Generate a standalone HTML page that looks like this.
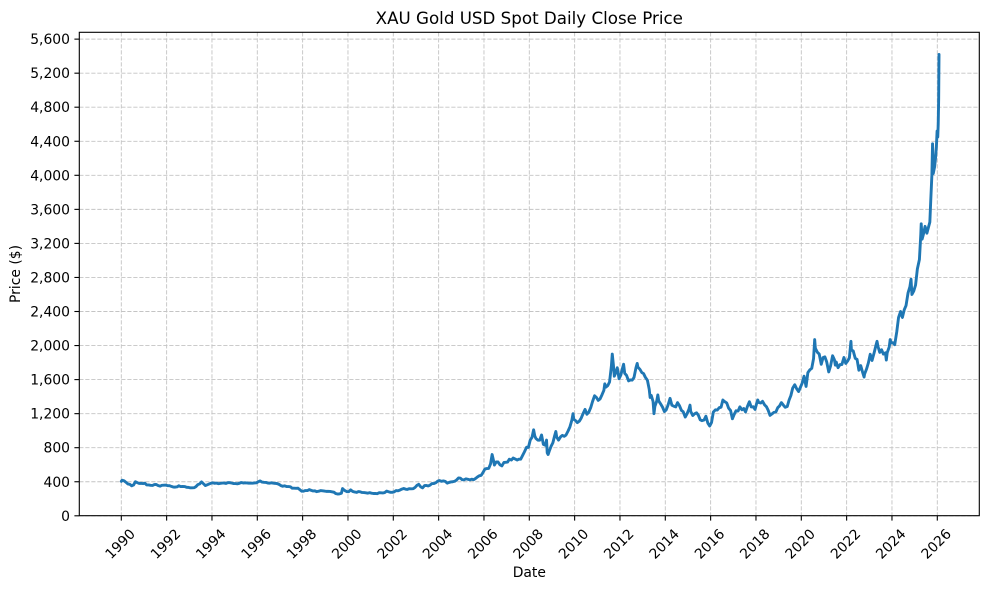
<!DOCTYPE html>
<html><head><meta charset="utf-8"><style>
html,body{margin:0;padding:0;background:#fff;}
svg{display:block;}
text{font-family:"DejaVu Sans","Liberation Sans",sans-serif;fill:#000;}
</style></head><body>
<svg width="989" height="590" viewBox="0 0 989 590" xmlns="http://www.w3.org/2000/svg">
<rect x="0" y="0" width="989" height="590" fill="#fff"/>
<g stroke="#c4c4c4" stroke-width="0.9" stroke-dasharray="4.2,1.8" fill="none">
<line x1="79.3" x2="979.3" y1="515.8" y2="515.8"/>
<line x1="79.3" x2="979.3" y1="481.75" y2="481.75"/>
<line x1="79.3" x2="979.3" y1="447.7" y2="447.7"/>
<line x1="79.3" x2="979.3" y1="413.66" y2="413.66"/>
<line x1="79.3" x2="979.3" y1="379.6" y2="379.6"/>
<line x1="79.3" x2="979.3" y1="345.56" y2="345.56"/>
<line x1="79.3" x2="979.3" y1="311.5" y2="311.5"/>
<line x1="79.3" x2="979.3" y1="277.46" y2="277.46"/>
<line x1="79.3" x2="979.3" y1="243.4" y2="243.4"/>
<line x1="79.3" x2="979.3" y1="209.37" y2="209.37"/>
<line x1="79.3" x2="979.3" y1="175.3" y2="175.3"/>
<line x1="79.3" x2="979.3" y1="141.27" y2="141.27"/>
<line x1="79.3" x2="979.3" y1="107.2" y2="107.2"/>
<line x1="79.3" x2="979.3" y1="73.18" y2="73.18"/>
<line x1="79.3" x2="979.3" y1="39.13" y2="39.13"/>
<line y1="32.3" y2="515.7" x1="121.3" x2="121.3"/>
<line y1="32.3" y2="515.7" x1="166.63" x2="166.63"/>
<line y1="32.3" y2="515.7" x1="211.97" x2="211.97"/>
<line y1="32.3" y2="515.7" x1="257.3" x2="257.3"/>
<line y1="32.3" y2="515.7" x1="302.63" x2="302.63"/>
<line y1="32.3" y2="515.7" x1="347.97" x2="347.97"/>
<line y1="32.3" y2="515.7" x1="393.3" x2="393.3"/>
<line y1="32.3" y2="515.7" x1="438.63" x2="438.63"/>
<line y1="32.3" y2="515.7" x1="483.97" x2="483.97"/>
<line y1="32.3" y2="515.7" x1="529.3" x2="529.3"/>
<line y1="32.3" y2="515.7" x1="574.63" x2="574.63"/>
<line y1="32.3" y2="515.7" x1="619.97" x2="619.97"/>
<line y1="32.3" y2="515.7" x1="665.3" x2="665.3"/>
<line y1="32.3" y2="515.7" x1="710.63" x2="710.63"/>
<line y1="32.3" y2="515.7" x1="755.97" x2="755.97"/>
<line y1="32.3" y2="515.7" x1="801.3" x2="801.3"/>
<line y1="32.3" y2="515.7" x1="846.63" x2="846.63"/>
<line y1="32.3" y2="515.7" x1="891.97" x2="891.97"/>
<line y1="32.3" y2="515.7" x1="937.3" x2="937.3"/>
</g>

<g transform="translate(121.3,515.8) scale(22.667,-0.08512)">
<polyline fill="none" stroke="#1f77b4" stroke-width="2.9" stroke-linejoin="round" stroke-linecap="round" vector-effect="non-scaling-stroke" points="
0,405 0.04,418 0.12,412 0.21,393 0.29,374 0.38,369 0.46,352 0.54,362 0.62,400 0.71,389 0.79,380 0.88,381 0.96,378
1.04,383 1.12,363 1.21,363 1.29,358 1.38,357 1.46,367 1.54,368 1.62,356 1.71,348 1.79,358 1.88,360 1.96,361
2.04,354 2.12,354 2.21,345 2.29,338 2.38,337 2.46,340 2.54,353 2.62,343 2.71,345 2.79,344 2.88,335 2.96,334
3.04,329 3.12,329 3.21,330 3.29,342 3.38,367 3.46,375 3.54,398 3.62,378 3.71,355 3.79,364 3.88,374 3.96,383
4.04,387 4.12,382 4.21,384 4.29,377 4.38,381 4.46,385 4.54,385 4.62,380 4.71,391 4.79,389 4.88,384 4.96,379
5.04,379 5.12,376 5.21,382 5.29,391 5.38,385 5.46,387 5.54,386 5.62,383 5.71,383 5.79,383 5.88,386 5.96,387
6.04,400 6.12,410 6.21,396 6.29,393 6.38,392 6.46,385 6.54,383 6.62,387 6.71,383 6.79,381 6.88,378 6.96,369
7.04,355 7.12,347 7.21,352 7.29,344 7.38,344 7.46,341 7.54,324 7.62,324 7.71,323 7.79,325 7.88,306 7.96,289
8.04,289 8.12,297 8.21,296 8.29,308 8.38,299 8.46,292 8.54,293 8.62,284 8.71,289 8.79,296 8.88,294 8.96,291
9.04,287 9.12,287 9.21,286 9.29,282 9.38,277 9.46,261 9.54,256 9.62,257 9.71,265 9.76,320 9.79,311 9.88,293 9.96,283
10.04,284 10.12,305 10.21,286 10.29,280 10.38,275 10.46,285 10.54,282 10.62,274 10.71,273 10.79,270 10.88,266 10.96,272
11.04,265 11.12,262 11.21,263 11.29,260 11.38,272 11.46,270 11.54,268 11.62,273 11.71,290 11.79,283 11.88,276 11.96,276
12.04,282 12.12,296 12.21,294 12.29,302 12.38,314 12.46,321 12.54,313 12.62,310 12.71,319 12.79,317 12.88,319 12.96,333
13.04,357 13.12,370 13.21,340 13.29,328 13.38,355 13.46,356 13.54,351 13.62,360 13.71,379 13.79,379 13.88,389 13.96,407
14.04,414 14.12,405 14.21,410 14.29,404 14.38,384 14.46,392 14.54,398 14.62,400 14.71,406 14.79,420 14.88,445 14.96,442
15.04,424 15.12,423 15.21,434 15.29,429 15.38,422 15.46,430 15.54,424 15.62,437 15.71,456 15.79,470 15.88,476 15.96,510
16.04,549 16.12,555 16.21,557 16.29,610 16.36,720 16.42,650 16.46,596 16.54,633 16.62,632 16.71,598 16.79,586 16.88,627 16.96,629
17.04,631 17.12,665 17.21,655 17.29,679 17.38,667 17.46,655 17.54,665 17.62,665 17.71,712 17.79,754 17.88,806 17.96,803
18.04,889 18.12,922 18.19,1010 18.24,940 18.29,909 18.38,888 18.46,889 18.54,950 18.62,839 18.71,829 18.76,890 18.79,740 18.83,720 18.88,760 18.96,816
19.04,858 19.12,943 19.17,990 19.21,924 19.29,890 19.38,928 19.46,945 19.54,934 19.62,949 19.71,996 19.79,1043 19.88,1127 19.93,1200 19.96,1134
20.04,1118 20.12,1095 20.21,1113 20.29,1148 20.38,1205 20.46,1250 20.54,1193 20.62,1215 20.71,1271 20.79,1343 20.88,1410 20.96,1391
21.04,1356 21.12,1372 21.21,1424 21.29,1474 21.33,1550 21.38,1512 21.46,1529 21.54,1572 21.62,1756 21.66,1900 21.71,1772 21.75,1640 21.79,1665 21.88,1739 21.96,1610
22.04,1656 22.12,1742 22.16,1780 22.21,1673 22.29,1650 22.38,1585 22.46,1596 22.54,1594 22.62,1626 22.71,1744 22.76,1790 22.79,1747 22.88,1721 22.96,1684
23.04,1671 23.12,1627 23.21,1593 23.29,1487 23.33,1390 23.38,1414 23.46,1343 23.5,1200 23.54,1286 23.62,1347 23.67,1420 23.71,1349 23.79,1316 23.88,1275 23.96,1225
24.04,1244 24.12,1300 24.21,1380 24.29,1299 24.38,1287 24.46,1279 24.54,1330 24.62,1296 24.71,1239 24.79,1222 24.88,1160 24.96,1200
25.04,1251 25.09,1300 25.12,1227 25.21,1178 25.29,1198 25.38,1210 25.46,1181 25.54,1128 25.62,1118 25.71,1125 25.79,1170 25.88,1086 25.96,1055
26.04,1097 26.12,1220 26.21,1245 26.29,1242 26.38,1270 26.46,1276 26.54,1360 26.62,1341 26.71,1326 26.79,1266 26.88,1236 26.96,1140
27.04,1192 27.12,1234 27.21,1231 27.29,1280 27.38,1246 27.46,1260 27.54,1220 27.62,1283 27.71,1340 27.79,1279 27.88,1281 27.96,1250
28.04,1331 28.08,1360 28.12,1331 28.21,1325 28.29,1345 28.38,1303 28.46,1282 28.54,1238 28.62,1180 28.71,1198 28.79,1215 28.88,1221 28.96,1270
29.04,1291 29.12,1330 29.21,1300 29.29,1275 29.38,1284 29.46,1359 29.54,1413 29.62,1500 29.71,1540 29.79,1495 29.88,1460 29.96,1510
30.04,1560 30.12,1640 30.21,1520 30.29,1683 30.38,1716 30.46,1732 30.54,1846 30.59,2070 30.62,1968 30.71,1921 30.79,1900 30.88,1780 30.96,1858
31.04,1867 31.12,1808 31.21,1690 31.29,1760 31.38,1880 31.46,1834 31.5,1770 31.54,1807 31.62,1740 31.71,1776 31.79,1777 31.88,1860 31.96,1790
32.04,1817 32.12,1856 32.19,2050 32.21,1948 32.29,1937 32.38,1849 32.46,1837 32.54,1710 32.62,1765 32.71,1681 32.77,1630 32.79,1664 32.88,1726 32.96,1798
33.04,1898 33.12,1825 33.21,1912 33.29,1999 33.34,2050 33.38,1992 33.46,1920 33.54,1951 33.62,1900 33.71,1915 33.75,1830 33.79,1917 33.88,1985 33.92,2070 33.96,2030
34.04,2034 34.12,2010 34.21,2160 34.29,2330 34.38,2400 34.46,2330 34.54,2420 34.62,2470 34.71,2620 34.79,2690 34.84,2780 34.88,2600 34.96,2640
35.04,2710 35.12,2900 35.21,3010 35.27,3300 35.29,3430 35.33,3250 35.38,3300 35.46,3400 35.54,3320 35.62,3400 35.67,3450 35.71,3700 35.76,4000 35.79,4370 35.82,4020 35.88,4100 35.92,4200 35.96,4340 35.99,4520 36.02,4450 36.04,4600 36.06,4900 36.075,5420"/>
</g>

<rect x="79.3" y="32.3" width="900" height="483.4" fill="none" stroke="#000" stroke-width="1.1"/>

<g stroke="#000" stroke-width="1.1">
<line x1="74.4" x2="79.3" y1="515.8" y2="515.8"/>
<line x1="74.4" x2="79.3" y1="481.75" y2="481.75"/>
<line x1="74.4" x2="79.3" y1="447.7" y2="447.7"/>
<line x1="74.4" x2="79.3" y1="413.66" y2="413.66"/>
<line x1="74.4" x2="79.3" y1="379.6" y2="379.6"/>
<line x1="74.4" x2="79.3" y1="345.56" y2="345.56"/>
<line x1="74.4" x2="79.3" y1="311.5" y2="311.5"/>
<line x1="74.4" x2="79.3" y1="277.46" y2="277.46"/>
<line x1="74.4" x2="79.3" y1="243.4" y2="243.4"/>
<line x1="74.4" x2="79.3" y1="209.37" y2="209.37"/>
<line x1="74.4" x2="79.3" y1="175.3" y2="175.3"/>
<line x1="74.4" x2="79.3" y1="141.27" y2="141.27"/>
<line x1="74.4" x2="79.3" y1="107.2" y2="107.2"/>
<line x1="74.4" x2="79.3" y1="73.18" y2="73.18"/>
<line x1="74.4" x2="79.3" y1="39.13" y2="39.13"/>
<line y1="515.7" y2="520.6" x1="121.3" x2="121.3"/>
<line y1="515.7" y2="520.6" x1="166.63" x2="166.63"/>
<line y1="515.7" y2="520.6" x1="211.97" x2="211.97"/>
<line y1="515.7" y2="520.6" x1="257.3" x2="257.3"/>
<line y1="515.7" y2="520.6" x1="302.63" x2="302.63"/>
<line y1="515.7" y2="520.6" x1="347.97" x2="347.97"/>
<line y1="515.7" y2="520.6" x1="393.3" x2="393.3"/>
<line y1="515.7" y2="520.6" x1="438.63" x2="438.63"/>
<line y1="515.7" y2="520.6" x1="483.97" x2="483.97"/>
<line y1="515.7" y2="520.6" x1="529.3" x2="529.3"/>
<line y1="515.7" y2="520.6" x1="574.63" x2="574.63"/>
<line y1="515.7" y2="520.6" x1="619.97" x2="619.97"/>
<line y1="515.7" y2="520.6" x1="665.3" x2="665.3"/>
<line y1="515.7" y2="520.6" x1="710.63" x2="710.63"/>
<line y1="515.7" y2="520.6" x1="755.97" x2="755.97"/>
<line y1="515.7" y2="520.6" x1="801.3" x2="801.3"/>
<line y1="515.7" y2="520.6" x1="846.63" x2="846.63"/>
<line y1="515.7" y2="520.6" x1="891.97" x2="891.97"/>
<line y1="515.7" y2="520.6" x1="937.3" x2="937.3"/>
</g>

<g font-size="13.9" text-anchor="end">
<text x="70" y="520.8">0</text>
<text x="70" y="486.75">400</text>
<text x="70" y="452.7">800</text>
<text x="70" y="418.66">1,200</text>
<text x="70" y="384.6">1,600</text>
<text x="70" y="350.56">2,000</text>
<text x="70" y="316.5">2,400</text>
<text x="70" y="282.46">2,800</text>
<text x="70" y="248.4">3,200</text>
<text x="70" y="214.37">3,600</text>
<text x="70" y="180.3">4,000</text>
<text x="70" y="146.27">4,400</text>
<text x="70" y="112.2">4,800</text>
<text x="70" y="78.18">5,200</text>
<text x="70" y="44.13">5,600</text>
</g>

<g font-size="13.9" text-anchor="middle">
<text transform="translate(123.5,547.2) rotate(-45)">1990</text>
<text transform="translate(168.83,547.2) rotate(-45)">1992</text>
<text transform="translate(214.17,547.2) rotate(-45)">1994</text>
<text transform="translate(259.5,547.2) rotate(-45)">1996</text>
<text transform="translate(304.83,547.2) rotate(-45)">1998</text>
<text transform="translate(350.17,547.2) rotate(-45)">2000</text>
<text transform="translate(395.5,547.2) rotate(-45)">2002</text>
<text transform="translate(440.83,547.2) rotate(-45)">2004</text>
<text transform="translate(486.17,547.2) rotate(-45)">2006</text>
<text transform="translate(531.5,547.2) rotate(-45)">2008</text>
<text transform="translate(576.83,547.2) rotate(-45)">2010</text>
<text transform="translate(622.17,547.2) rotate(-45)">2012</text>
<text transform="translate(667.5,547.2) rotate(-45)">2014</text>
<text transform="translate(712.83,547.2) rotate(-45)">2016</text>
<text transform="translate(758.17,547.2) rotate(-45)">2018</text>
<text transform="translate(803.5,547.2) rotate(-45)">2020</text>
<text transform="translate(848.83,547.2) rotate(-45)">2022</text>
<text transform="translate(894.17,547.2) rotate(-45)">2024</text>
<text transform="translate(939.5,547.2) rotate(-45)">2026</text>
</g>

<text x="529.3" y="24" font-size="16.7" text-anchor="middle">XAU Gold USD Spot Daily Close Price</text>
<text x="529.3" y="577" font-size="13.9" text-anchor="middle">Date</text>
<text transform="translate(20,274) rotate(-90)" font-size="13.9" text-anchor="middle">Price ($)</text>
</svg>
</body></html>
